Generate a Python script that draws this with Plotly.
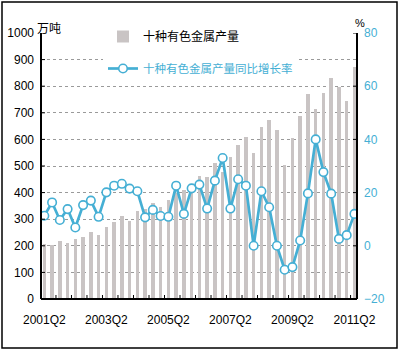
import plotly.graph_objects as go

quarters = ["2001Q2","2001Q3","2001Q4","2002Q1","2002Q2","2002Q3","2002Q4","2003Q1","2003Q2","2003Q3","2003Q4",
            "2004Q1","2004Q2","2004Q3","2004Q4","2005Q1","2005Q2","2005Q3","2005Q4","2006Q1","2006Q2","2006Q3",
            "2006Q4","2007Q1","2007Q2","2007Q3","2007Q4","2008Q1","2008Q2","2008Q3","2008Q4","2009Q1","2009Q2",
            "2009Q3","2009Q4","2010Q1","2010Q2","2010Q3","2010Q4","2011Q1","2011Q2"]
output = [207, 203, 219, 212, 226, 234, 253, 242, 269, 290, 313, 292, 332, 340, 362, 345, 374, 400, 410, 400,
          462, 458, 510, 478, 534, 578, 610, 550, 646, 672, 636, 505, 604, 687, 770, 713, 774, 830, 796, 745, 872]
growth = [11.3, 16.3, 9.7, 13.8, 6.9, 15.3, 17.0, 10.9, 20.1, 22.6, 23.3, 21.5, 20.5, 10.7, 13.5, 11.2, 10.9,
          22.6, 12.0, 21.6, 23.0, 14.0, 24.5, 33.0, 14.0, 25.0, 22.6, 0.0, 20.5, 14.5, 0.0, -9.0, -8.0, 2.0,
          19.7, 40.0, 27.7, 19.6, 2.6, 4.0, 12.0]
label_quarters = ["2001Q2", "2003Q2", "2005Q2", "2007Q2", "2009Q2", "2011Q2"]
left_ticks = list(range(0, 1001, 100))
right_ticks = [-20, 0, 20, 40, 60, 80]

idx = list(range(len(quarters)))
label_pos = [quarters.index(q) for q in label_quarters]
tick_pos = [i - 0.5 for i in range(2, len(quarters), 2)]

BLUE = "#45afd4"
FONT = "Liberation Sans, Arial, sans-serif"

fig = go.Figure()
fig.add_trace(go.Bar(x=idx, y=output, width=0.45, marker=dict(color="#c9c4c4", line=dict(width=0)),
                     name="十种有色金属产量", legend="legend"))
fig.add_trace(go.Scatter(x=idx, y=growth, yaxis="y2", mode="lines+markers",
                         line=dict(color=BLUE, width=2.7),
                         marker=dict(size=8.5, color="white", line=dict(color=BLUE, width=1.6)),
                         name='<span style="color:%s">十种有色金属产量同比增长率</span>' % BLUE,
                         legend="legend2"))

W, H = 400, 351
L, R, T, B = 41, 357, 33, 299
PW, PH = R - L, B - T

def px(x):
    return (x - L) / PW

def py(y):
    return (B - y) / PH

XR = [-0.43, 40.33]
TL = 4  # tick length in px

shapes = [
    dict(type="rect", xref="paper", yref="paper", x0=px(2), x1=px(397), y0=py(348), y1=py(2),
         line=dict(color="black", width=1.5), fillcolor="rgba(0,0,0,0)"),
    dict(type="line", xref="paper", yref="paper", x0=0, x1=0, y0=0, y1=1, line=dict(color="black", width=2)),
    dict(type="line", xref="paper", yref="paper", x0=1, x1=1, y0=0, y1=1, line=dict(color="black", width=2)),
    dict(type="line", xref="paper", yref="paper", x0=0, x1=1, y0=0, y1=0, line=dict(color="black", width=2)),
]
for v in left_ticks:
    shapes.append(dict(type="line", xref="paper", yref="y", x0=0, x1=TL / PW, y0=v, y1=v,
                       line=dict(color="black", width=1)))
for v in right_ticks:
    shapes.append(dict(type="line", xref="paper", yref="y2", x0=1 - TL / PW, x1=1, y0=v, y1=v,
                       line=dict(color="black", width=1)))
for v in tick_pos:
    shapes.append(dict(type="line", xref="x", yref="paper", x0=v, x1=v, y0=0, y1=TL / PH,
                       line=dict(color="black", width=1)))

fig.update_layout(
    width=W, height=H,
    margin=dict(l=L, r=W - R, t=T, b=H - B, pad=0, autoexpand=False),
    paper_bgcolor="white", plot_bgcolor="white",
    font=dict(family=FONT, size=12, color="black"),
    bargap=0,
    showlegend=True,
    legend=dict(x=px(103), y=py(22), xanchor="left", yanchor="top", bgcolor="white",
                font=dict(family="Noto Sans CJK SC", size=12, color="black"), borderwidth=0),
    legend2=dict(x=px(103), y=py(54), xanchor="left", yanchor="top", bgcolor="white",
                 font=dict(family="Noto Sans CJK SC", size=11.5, color="black"), borderwidth=0),
    xaxis=dict(range=XR, tickvals=label_pos, ticktext=label_quarters, ticks="",
               showline=False, showgrid=False, zeroline=False, automargin=False, ticklabelstandoff=12),
    yaxis=dict(range=[0, 1000], tickvals=left_ticks, ticks="", showline=False, showgrid=True,
               gridcolor="#9a9a9a", griddash="dot", gridwidth=1, zeroline=False, automargin=False,
               ticklabelstandoff=6),
    yaxis2=dict(range=[-20, 80], tickvals=right_ticks, overlaying="y", side="right", ticks="",
                showline=False, showgrid=False, zeroline=False, tickfont=dict(color=BLUE),
                automargin=False, ticklabelstandoff=6),
    annotations=[
        dict(text="万吨", x=px(49), y=py(27), xref="paper", yref="paper", showarrow=False,
             xanchor="center", yanchor="middle",
             font=dict(family="Noto Sans CJK SC", size=12, color="black")),
        dict(text="%", x=px(360), y=py(23), xref="paper", yref="paper", showarrow=False,
             xanchor="center", yanchor="middle",
             font=dict(size=11, color="black")),
    ],
    shapes=shapes,
)

fig.write_html("out.html")
